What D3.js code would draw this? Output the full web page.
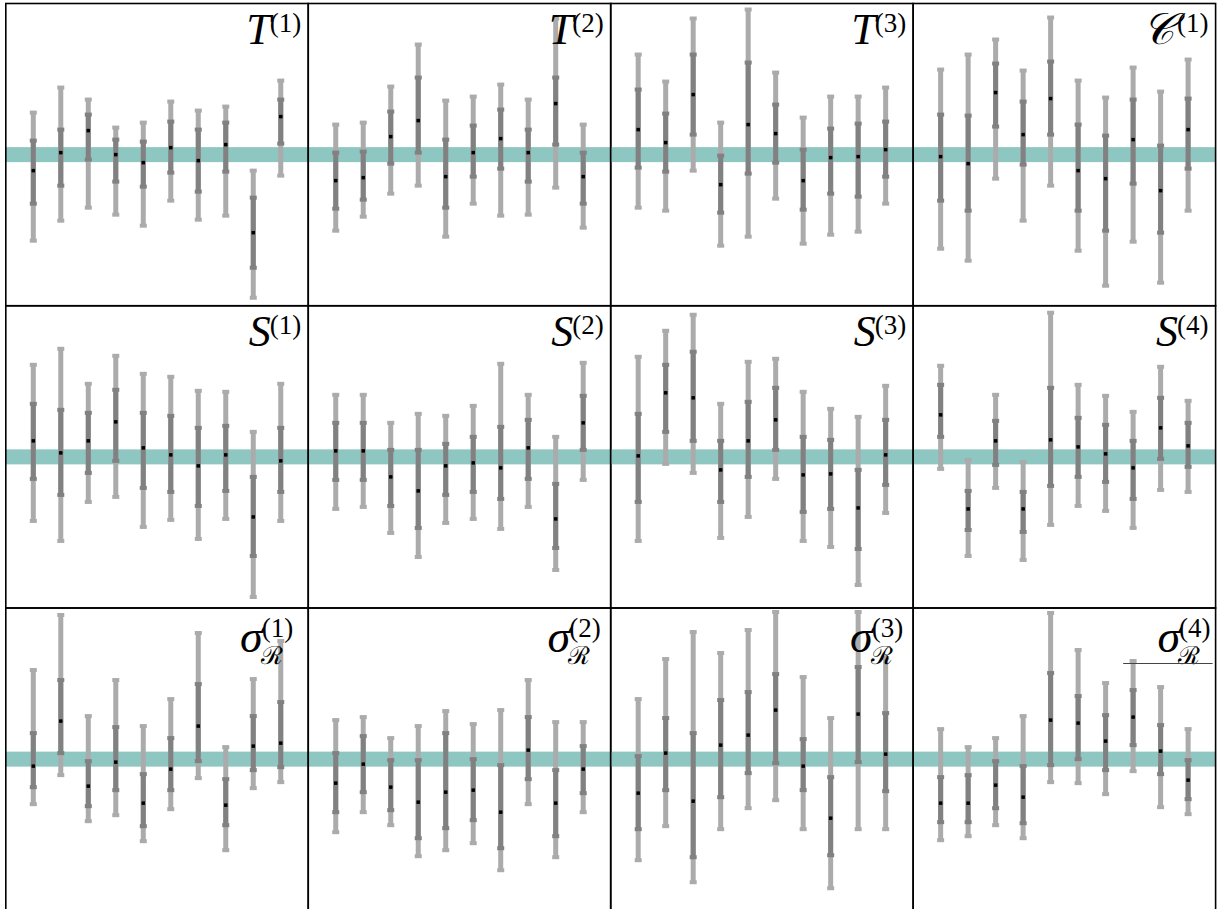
<!DOCTYPE html>
<html>
<head>
<meta charset="utf-8">
<script src="https://cdn.jsdelivr.net/npm/d3@7"></script>
<style>
  body { margin: 0; background: #fff; }
</style>
</head>
<body>
<svg id="chart" width="1224" height="909"></svg>
<script>
// panel titles: base symbol, superscript, optional subscript
const titleBase = ["T", "T", "T", "𝒞", "S", "S", "S", "S", "σ", "σ", "σ", "σ"];
const titleSup = ["(1)", "(2)", "(3)", "(1)", "(1)", "(2)", "(3)", "(4)", "(1)", "(2)", "(3)", "(4)"];
const titleSub = ["", "", "", "", "", "", "", "", "ℛ", "ℛ", "ℛ", "ℛ"];

// one row per panel, ten intervals each
const hiOuter = [
  [0.42, 0.67, 0.55, 0.27, 0.32, 0.53, 0.44, 0.48, -0.16, 0.74],
  [0.30, 0.32, 0.68, 1.10, 0.54, 0.58, 0.70, 0.55, 1.36, 0.30],
  [1.00, 0.73, 1.36, 0.32, 1.45, 0.82, 0.37, 0.58, 0.58, 0.67],
  [0.85, 1.00, 1.15, 0.84, 1.37, 0.74, 0.57, 0.87, 0.63, 0.95],
  [0.92, 1.08, 0.73, 1.01, 0.83, 0.80, 0.66, 0.65, 0.25, 0.73],
  [0.62, 0.62, 0.34, 0.43, 0.41, 0.51, 0.93, 0.62, 0.20, 0.94],
  [1.00, 1.26, 1.42, 0.53, 0.95, 0.98, 0.65, 0.48, 0.40, 0.71],
  [0.91, -0.03, 0.62, -0.05, 1.44, 0.72, 0.61, 0.45, 0.90, 0.56],
  [0.89, 1.44, 0.43, 0.79, 0.33, 0.60, 1.26, 0.12, 0.80, 1.18],
  [0.39, 0.42, 0.21, 0.33, 0.48, 0.35, 0.49, 0.79, 0.37, 0.37],
  [0.60, 1.00, 1.27, 1.06, 1.29, 1.47, 0.82, 0.41, 1.47, 1.01],
  [0.30, 0.12, 0.21, 0.43, 1.46, 1.09, 0.76, 0.98, 0.72, 0.30]
];
const hiInner = [
  [0.14, 0.25, 0.40, 0.15, 0.13, 0.33, 0.25, 0.32, -0.43, 0.55],
  [0.02, 0.03, 0.43, 0.77, 0.15, 0.29, 0.45, 0.25, 0.77, 0.02],
  [0.65, 0.41, 1.00, -0.01, 0.92, 0.50, 0.05, 0.26, 0.31, 0.33],
  [0.40, 0.39, 0.91, 0.53, 0.93, 0.30, 0.19, 0.55, 0.09, 0.56],
  [0.53, 0.47, 0.44, 0.67, 0.44, 0.41, 0.29, 0.31, -0.20, 0.29],
  [0.34, 0.34, 0.07, 0.07, 0.13, 0.20, 0.30, 0.37, -0.27, 0.61],
  [0.43, 0.92, 1.05, 0.16, 0.55, 0.69, 0.20, 0.17, -0.13, 0.37],
  [0.72, -0.34, 0.36, -0.35, 0.69, 0.39, 0.32, 0.16, 0.59, 0.34],
  [0.26, 0.79, -0.02, 0.32, -0.15, 0.21, 0.75, -0.20, 0.43, 0.57],
  [0.06, 0.23, -0.01, -0.01, 0.26, 0.00, -0.06, 0.42, -0.11, 0.13],
  [0.03, 0.41, 0.26, 0.59, 0.67, 0.85, 0.20, -0.18, 0.92, 0.46],
  [-0.18, -0.16, -0.02, -0.07, 0.86, 0.63, 0.44, 0.69, 0.34, -0.01]
];
const median = [
  [-0.16, 0.02, 0.24, 0.00, -0.08, 0.07, -0.06, 0.10, -0.78, 0.38],
  [-0.26, -0.23, 0.18, 0.34, -0.22, 0.02, 0.16, 0.02, 0.51, -0.22],
  [0.25, 0.12, 0.60, -0.30, 0.30, 0.21, -0.26, -0.03, -0.02, 0.05],
  [-0.02, -0.09, 0.62, 0.20, 0.56, -0.16, -0.24, 0.15, -0.36, 0.25],
  [0.16, 0.04, 0.16, 0.35, 0.09, 0.02, -0.09, 0.02, -0.60, -0.04],
  [0.06, 0.06, -0.20, -0.34, -0.09, -0.06, -0.11, 0.09, -0.62, 0.34],
  [0.01, 0.64, 0.59, -0.13, 0.16, 0.37, -0.18, -0.17, -0.51, 0.02],
  [0.42, -0.52, 0.16, -0.52, 0.17, 0.10, 0.03, -0.11, 0.29, 0.11],
  [-0.07, 0.38, -0.27, -0.03, -0.44, -0.10, 0.33, -0.46, 0.13, 0.16],
  [-0.24, -0.05, -0.28, -0.43, -0.33, -0.31, -0.53, 0.09, -0.44, -0.10],
  [-0.34, 0.06, -0.42, 0.14, 0.24, 0.49, -0.07, -0.59, 0.45, 0.05],
  [-0.44, -0.44, -0.26, -0.38, 0.39, 0.36, 0.18, 0.42, 0.08, -0.21]
];
const loInner = [
  [-0.49, -0.31, -0.05, -0.27, -0.32, -0.18, -0.37, -0.17, -1.13, 0.11],
  [-0.54, -0.45, -0.09, 0.02, -0.53, -0.22, -0.14, -0.27, 0.10, -0.49],
  [-0.13, -0.17, 0.20, -0.58, -0.19, -0.08, -0.55, -0.39, -0.42, -0.22],
  [-0.46, -0.56, 0.28, -0.10, 0.20, -0.56, -0.76, -0.29, -0.78, -0.14],
  [-0.22, -0.38, -0.16, -0.04, -0.31, -0.35, -0.49, -0.34, -0.99, -0.35],
  [-0.23, -0.23, -0.49, -0.71, -0.38, -0.35, -0.42, -0.22, -0.91, 0.07],
  [-0.45, 0.25, 0.16, -0.45, -0.20, 0.07, -0.55, -0.52, -0.92, -0.28],
  [0.20, -0.73, -0.08, -0.75, -0.29, -0.20, -0.25, -0.42, -0.02, -0.10],
  [-0.28, 0.06, -0.47, -0.31, -0.67, -0.31, -0.02, -0.66, -0.11, -0.08],
  [-0.53, -0.33, -0.51, -0.79, -0.69, -0.61, -0.89, -0.20, -0.77, -0.34],
  [-0.70, -0.31, -0.98, -0.38, -0.14, -0.04, -0.31, -0.96, -0.03, -0.32],
  [-0.63, -0.63, -0.49, -0.64, -0.06, 0.00, -0.11, 0.14, -0.15, -0.40]
];
const loOuter = [
  [-0.86, -0.66, -0.53, -0.60, -0.71, -0.46, -0.65, -0.61, -1.43, -0.21],
  [-0.76, -0.62, -0.39, -0.31, -0.82, -0.49, -0.61, -0.60, -0.33, -0.73],
  [-0.53, -0.56, -0.16, -0.91, -0.82, -0.44, -0.89, -0.80, -0.77, -0.49],
  [-0.94, -1.06, -0.24, -0.66, -0.31, -0.96, -1.31, -0.87, -1.28, -0.56],
  [-0.64, -0.84, -0.45, -0.40, -0.70, -0.63, -0.82, -0.62, -1.40, -0.64],
  [-0.52, -0.50, -0.76, -1.00, -0.66, -0.62, -0.72, -0.50, -1.13, -0.23],
  [-0.84, -0.07, -0.16, -0.81, -0.60, -0.22, -0.84, -0.90, -1.28, -0.56],
  [-0.12, -0.99, -0.31, -1.03, -0.68, -0.49, -0.54, -0.71, -0.33, -0.35],
  [-0.45, -0.16, -0.62, -0.56, -0.82, -0.50, -0.19, -0.91, -0.29, -0.23],
  [-0.73, -0.53, -0.66, -0.97, -0.91, -0.84, -1.11, -0.45, -0.98, -0.53],
  [-1.01, -0.67, -1.23, -0.70, -0.49, -0.41, -0.70, -1.29, -0.70, -0.70],
  [-0.81, -0.77, -0.66, -0.79, -0.23, -0.24, -0.35, -0.12, -0.48, -0.55]
];

// layout
const left0 = 5.8, top0 = 3.5;
const panelW = 302.45, panelH = 302.25;
const nCols = 4;

const colOuter = "#ababab", colInner = "#818181", colBand = "#8ec6c2";
const serif = "'Liberation Serif', 'DejaVu Serif', serif";

const x = d3.scaleLinear().domain([0, 11]).range([0, panelW]);
const y = d3.scaleLinear().domain([-1.51, 1.51]).range([panelH, 0]);

const svg = d3.select("#chart");

for (let p = 0; p < hiOuter.length; p++) {
    const col = p % nCols, row = Math.floor(p / nCols);
    const g = svg.append("g")
        .attr("transform", `translate(${left0 + col * panelW},${top0 + row * panelH})`);

    // reference band at zero
    g.append("rect")
        .attr("x", 0).attr("width", panelW)
        .attr("y", y(0) - 7.5).attr("height", 15)
        .attr("fill", colBand);

    const bars = d3.range(10).map(i => ({
        i: i,
        lo: loOuter[p][i], q1: loInner[p][i], med: median[p][i],
        q3: hiInner[p][i], hi: hiOuter[p][i]
    }));

    const bar = g.selectAll("g.bar")
        .data(bars)
        .join("g")
        .attr("class", "bar")
        .attr("transform", d => `translate(${x(d.i + 1)},0)`);

    bar.append("line")
        .attr("y1", d => y(d.lo)).attr("y2", d => y(d.hi))
        .attr("stroke", colOuter).attr("stroke-width", 5);
    bar.selectAll("rect.capo")
        .data(d => [d.lo, d.hi])
        .join("rect")
        .attr("class", "capo")
        .attr("x", -3.5).attr("width", 7)
        .attr("y", v => y(v) - 2).attr("height", 4)
        .attr("fill", colOuter);

    bar.append("line")
        .attr("y1", d => y(d.q1)).attr("y2", d => y(d.q3))
        .attr("stroke", colInner).attr("stroke-width", 5);
    bar.selectAll("rect.capi")
        .data(d => [d.q1, d.q3])
        .join("rect")
        .attr("class", "capi")
        .attr("x", -3.5).attr("width", 7)
        .attr("y", v => y(v) - 2).attr("height", 4)
        .attr("fill", colInner);

    bar.append("rect")
        .attr("x", -1.75).attr("width", 3.5)
        .attr("y", d => y(d.med) - 1.75).attr("height", 3.5)
        .attr("fill", "#000");

    // frame
    g.append("rect")
        .attr("width", panelW).attr("height", panelH)
        .attr("fill", "none")
        .attr("stroke", "#000").attr("stroke-width", 1.6);

    // title, right aligned
    const isSigma = titleSub[p] !== "";
    const right = panelW - (isSigma ? (col === 3 ? 5 : (col === 0 ? 15 : 10)) : 7);

    const sup = g.append("text")
        .attr("x", right).attr("y", isSigma ? 29 : 28)
        .attr("text-anchor", "end")
        .style("font-family", serif)
        .style("font-size", "27px")
        .text(titleSup[p]);
    const supW = sup.node().getComputedTextLength();
    const baseRight = right - supW;

    if (isSigma) {
        g.append("text")
            .attr("x", baseRight - 1).attr("y", 56)
            .style("font-family", "'DejaVu Serif', serif")
            .style("font-size", "25px")
            .text(titleSub[p]);
        g.append("text")
            .attr("x", baseRight + 1).attr("y", 44)
            .attr("text-anchor", "end")
            .style("font-family", serif)
            .style("font-style", "italic")
            .style("font-size", "46px")
            .text(titleBase[p]);
        if (p === 11) {
            g.append("line")
                .attr("x1", 210).attr("x2", panelW - 3)
                .attr("y1", 55.5).attr("y2", 55.5)
                .attr("stroke", "#444").attr("stroke-width", 1);
        }
    } else {
        g.append("text")
            .attr("x", baseRight + (p === 3 ? -3 : 1)).attr("y", 40)
            .attr("text-anchor", "end")
            .style("font-family", serif)
            .style("font-style", "italic")
            .style("font-size", "44px")
            .text(titleBase[p]);
    }
}
</script>
</body>
</html>
